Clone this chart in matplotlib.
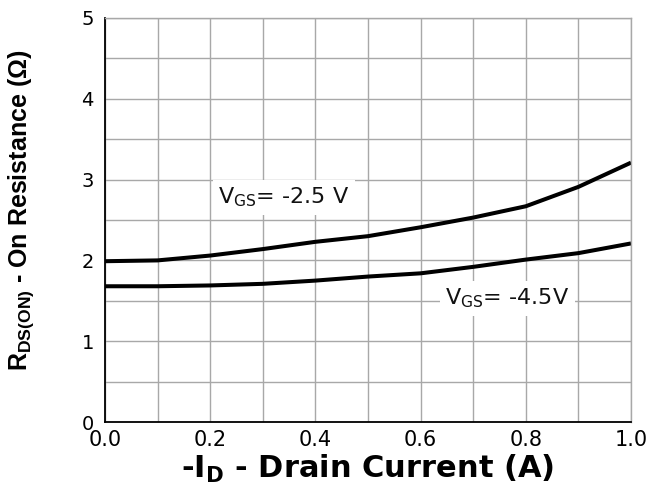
import matplotlib
matplotlib.use("Agg")
import matplotlib.pyplot as plt
import numpy as np

current = [0.0, 0.1, 0.2, 0.3, 0.4, 0.5, 0.6, 0.7, 0.8, 0.9, 1.0]
r_vgs_25 = [1.99, 2.00, 2.06, 2.14, 2.23, 2.30, 2.41, 2.53, 2.67, 2.91, 3.21]
r_vgs_45 = [1.68, 1.68, 1.69, 1.71, 1.75, 1.80, 1.84, 1.92, 2.01, 2.09, 2.21]
x_ticks = [0.0, 0.2, 0.4, 0.6, 0.8, 1.0]
x_tick_labels = ["0.0", "0.2", "0.4", "0.6", "0.8", "1.0"]
y_ticks = [0, 1, 2, 3, 4, 5]
y_tick_labels = ["0", "1", "2", "3", "4", "5"]

plt.rcParams['font.family'] = ['DejaVu Sans']
plt.rcParams['mathtext.default'] = 'regular'

fig = plt.figure(figsize=(6.52, 4.88), dpi=100)
ax = fig.add_axes([105/652, 66/488, 526/652, 404/488])

ax.set_xlim(0, 1.0)
ax.set_ylim(0, 5)

ax.set_xticks(x_ticks)
ax.set_xticklabels(x_tick_labels, fontsize=15)
ax.set_xticks(np.arange(0.1, 1.0, 0.2), minor=True)
ax.set_yticks(y_ticks)
ax.set_yticklabels(y_tick_labels, fontsize=14)
ax.set_yticks(np.arange(0.5, 5.0, 1.0), minor=True)
ax.grid(True, which='both', color='#a8a8a8', linewidth=1.0)
ax.set_axisbelow(True)
ax.tick_params(which='both', length=0)
ax.tick_params(axis='x', pad=6)
ax.tick_params(axis='y', pad=8)

for s in ['left', 'bottom']:
    ax.spines[s].set_color('black')
    ax.spines[s].set_linewidth(1.3)
for s in ['top', 'right']:
    ax.spines[s].set_color('#a8a8a8')
    ax.spines[s].set_linewidth(1.0)

ax.plot(current, r_vgs_25, color='black', linewidth=2.9, solid_capstyle='butt')
ax.plot(current, r_vgs_45, color='black', linewidth=2.9, solid_capstyle='butt')

bbox = dict(facecolor='white', edgecolor='none', pad=4)
ax.text(0.34, 2.78, r"V$_{GS}$= -2.5 V", fontsize=16, ha='center', va='center',
        color='#111111', bbox=bbox)
ax.text(0.765, 1.53, r"V$_{GS}$= -4.5V", fontsize=16, ha='center', va='center',
        color='#111111', bbox=bbox)

ax.set_xlabel(r"-I$_{D}$ - Drain Current (A)", fontsize=22, fontweight='bold', labelpad=2)
ax.set_ylabel(r"R$_{DS(ON)}$ - On Resistance ($\Omega$)", fontsize=18, fontweight='bold',
              family=['Liberation Sans', 'DejaVu Sans'], labelpad=33)
ax.yaxis.label.set_y(0.525)

fig.savefig("out.png", dpi=100)
